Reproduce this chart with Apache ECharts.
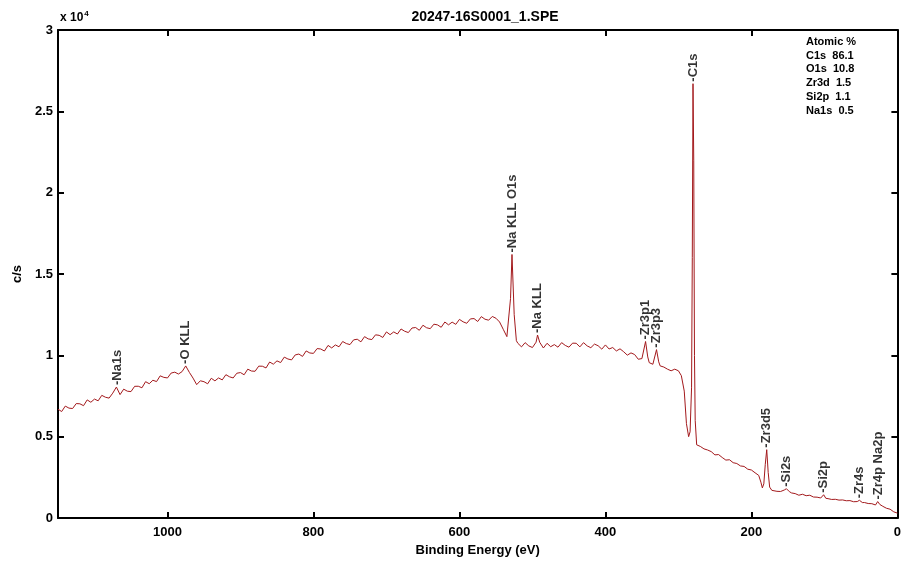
<!DOCTYPE html>
<html>
<head>
<meta charset="utf-8">
<title>20247-16S0001_1.SPE</title>
<script src="https://cdn.jsdelivr.net/npm/echarts@6/dist/echarts.min.js"></script>
<style>
  html, body { margin: 0; padding: 0; background: #ffffff; }
  #chart { width: 904px; height: 562px; }
</style>
</head>
<body>
<div id="chart"></div>
<script>
// XPS survey spectrum: binding energy (eV) and intensity (counts per second)
const bindingEnergy = [
  1150, 1145, 1140, 1135, 1130, 1125, 1120, 1115, 1110, 1105, 1100, 1095, 1090, 1085, 1080, 1075,
  1070, 1065, 1060, 1055, 1050, 1045, 1040, 1035, 1030, 1025, 1020, 1015, 1010, 1005, 1000, 995,
  990, 985, 980, 975, 970, 965, 960, 955, 950, 945, 940, 935, 930, 925, 920, 915,
  910, 905, 900, 895, 890, 885, 880, 875, 870, 865, 860, 855, 850, 845, 840, 835,
  830, 825, 820, 815, 810, 805, 800, 795, 790, 785, 780, 775, 770, 765, 760, 755,
  750, 745, 740, 735, 730, 725, 720, 715, 710, 705, 700, 695, 690, 685, 680, 675,
  670, 665, 660, 655, 650, 645, 640, 635, 630, 625, 620, 615, 610, 605, 600, 595,
  590, 585, 580, 575, 570, 565, 560, 555, 550, 545, 540, 535, 530, 528, 525, 522,
  520, 515, 510, 505, 500, 495, 493, 490, 485, 480, 475, 470, 465, 460, 455, 450,
  445, 440, 435, 430, 425, 420, 415, 410, 405, 400, 395, 390, 385, 380, 375, 370,
  365, 360, 355, 350, 345, 342, 340, 335, 330, 327, 325, 320, 315, 310, 305, 300,
  296, 292, 289, 286, 284, 282, 281, 280, 279, 278, 277, 275, 270, 265, 260, 255,
  250, 245, 240, 235, 230, 225, 220, 215, 210, 205, 200, 195, 190, 187, 185, 183,
  181, 179, 177, 175, 172, 170, 165, 160, 155, 152, 148, 145, 140, 135, 130, 125,
  120, 115, 110, 105, 101, 98, 95, 90, 85, 80, 75, 70, 65, 60, 55, 52,
  48, 45, 40, 35, 30, 27, 24, 20, 15, 10, 5, 0
];
const countsPerSecond = [
  6690, 6545, 6880, 6755, 6730, 7035, 7020, 6905, 7260, 7115, 7310, 7205, 7540, 7425, 7370, 7675,
  8050, 7585, 7920, 7795, 7770, 8095, 8100, 8005, 8380, 8255, 8470, 8385, 8740, 8645, 8610, 8910,
  8965, 8850, 9000, 9350, 8950, 8600, 8200, 8435, 8380, 8250, 8590, 8430, 8610, 8490, 8810, 8680,
  8610, 8900, 8940, 8805, 9150, 9035, 9020, 9335, 9330, 9225, 9590, 9455, 9660, 9555, 9890, 9775,
  9720, 10025, 10080, 9935, 10270, 10145, 10120, 10415, 10390, 10265, 10610, 10455, 10640, 10525, 10850, 10725,
  10660, 10950, 10990, 10830, 11150, 11010, 10970, 11260, 11230, 11100, 11440, 11270, 11440, 11310, 11620, 11480,
  11400, 11680, 11710, 11540, 11850, 11695, 11640, 11915, 11870, 11725, 12050, 11875, 12040, 11905, 12210, 12060,
  11970, 12240, 12260, 12080, 12380, 12220, 12160, 12390, 12280, 12050, 11600, 11150, 13500, 16200, 12500, 10900,
  10740, 10520, 10780, 10580, 10480, 10810, 11250, 10800, 10450, 10740, 10530, 10660, 10500, 10780, 10610, 10500,
  10750, 10740, 10520, 10780, 10580, 10470, 10690, 10590, 10380, 10640, 10390, 10480, 10270, 10400, 10220, 10010,
  10150, 10050, 9760, 9800, 10850, 9900, 9550, 9450, 10350, 9600, 9350, 9280, 9150, 9050, 9150, 9050,
  8750, 7800, 5800, 5000, 5300, 8000, 16000, 26700, 22000, 10000, 6000, 4500, 4400, 4250, 4180, 4080,
  3880, 3900, 3720, 3560, 3580, 3400, 3350, 3200, 3170, 3000, 2950, 2780, 2620, 2200, 1850, 2100,
  3300, 4200, 2800, 1900, 1700, 1760, 1640, 1630, 1720, 1800, 1620, 1540, 1500, 1400, 1460, 1370,
  1400, 1290, 1280, 1230, 1430, 1210, 1190, 1140, 1150, 1100, 1110, 1060, 1070, 1000, 1010, 1090,
  950, 950, 890, 880, 800, 1010, 830, 720, 600, 540, 380, 300
];

// Peak identifications
const peakNames = ['Na1s', 'O KLL', 'Na KLL O1s', 'Na KLL', 'Zr3p1', 'Zr3p3', 'C1s', 'Zr3d5', 'Si2s', 'Si2p', 'Zr4s', 'Zr4p Na2p'];
const peakEnergies = [1068, 975, 528, 493, 345, 330, 280, 179, 152, 101, 52, 26];
const peakCounts = [8050, 9350, 16200, 11250, 10850, 10350, 26700, 4200, 1800, 1430, 1090, 1010];

// Atomic concentration table
const atomicNames = ['C1s', 'O1s', 'Zr3d', 'Si2p', 'Na1s'];
const atomicPercent = ['86.1', '10.8', '1.5', '1.1', '0.5'];

// Axis ticks
const xTicks = [0, 200, 400, 600, 800, 1000];
const yTickLabels = ['0', '0.5', '1', '1.5', '2', '2.5', '3'];

const FONT = '"Liberation Sans", Arial, sans-serif';
const spectrum = bindingEnergy.map((e, i) => [e, countsPerSecond[i]]);
const peaks = peakEnergies.map((e, i) => ({ value: [e, peakCounts[i]], name: peakNames[i] }));

const chart = echarts.init(document.getElementById('chart'), null, { renderer: 'canvas' });

const axisLine = { show: true, onZero: false, lineStyle: { color: '#000', width: 2 } };
const tickStyle = { show: true, inside: true, length: 6, lineStyle: { color: '#000', width: 2 } };
const tickLabel = { color: '#000', fontFamily: FONT, fontSize: 13, fontWeight: 'bold' };
const nameStyle = { color: '#000', fontFamily: FONT, fontSize: 13, fontWeight: 'bold' };

const xCommon = {
  type: 'value', min: 0, max: 1150, interval: 200, inverse: true,
  axisLine: axisLine, axisTick: tickStyle, splitLine: { show: false }
};
const yCommon = {
  type: 'value', min: 0, max: 30000, interval: 5000,
  axisLine: axisLine, axisTick: tickStyle, splitLine: { show: false }
};

const tableLines = atomicNames.map((n, i) => ({
  type: 'text', left: 806, top: 50 + i * 13.8,
  style: { text: n + '  ' + atomicPercent[i], fill: '#000', font: 'bold 11px ' + FONT }
}));

chart.setOption({
  animation: false,
  backgroundColor: '#ffffff',
  title: {
    text: '20247-16S0001_1.SPE', left: 480, top: 5, textAlign: 'center',
    textStyle: { color: '#000', fontFamily: FONT, fontSize: 14, fontWeight: 'bold' }
  },
  grid: { left: 58, right: 3, top: 30, bottom: 44 },
  xAxis: [
    Object.assign({}, xCommon, {
      position: 'bottom',
      name: 'Binding Energy (eV)', nameLocation: 'middle', nameGap: 26,
      nameTextStyle: nameStyle,
      axisLabel: Object.assign({}, tickLabel, {
        margin: 8, showMaxLabel: false,
        formatter: v => xTicks.indexOf(v) >= 0 ? String(v) : ''
      })
    }),
    Object.assign({}, xCommon, { position: 'top', axisLabel: { show: false } })
  ],
  yAxis: [
    Object.assign({}, yCommon, {
      position: 'left',
      name: 'c/s', nameLocation: 'middle', nameGap: 32, nameRotate: 90,
      nameTextStyle: nameStyle,
      axisLabel: Object.assign({}, tickLabel, {
        margin: 5,
        formatter: v => yTickLabels[Math.round(v / 5000)]
      })
    }),
    Object.assign({}, yCommon, { position: 'right', axisLabel: { show: false } })
  ],
  graphic: [
    {
      type: 'text', left: 60, top: 10,
      style: {
        text: '{b|x 10}{s|4}',
        rich: {
          b: { font: 'bold 12px ' + FONT, fill: '#000' },
          s: { font: 'bold 8px ' + FONT, fill: '#000', verticalAlign: 'top', padding: [0, 0, 7, 1] }
        }
      }
    },
    {
      type: 'text', left: 806, top: 36,
      style: { text: 'Atomic %', fill: '#000', font: 'bold 11px ' + FONT }
    }
  ].concat(tableLines),
  series: [
    {
      type: 'line', xAxisIndex: 0, yAxisIndex: 0,
      data: spectrum, showSymbol: false, symbol: 'none',
      lineStyle: { color: '#a3191c', width: 1 },
      silent: true
    },
    {
      type: 'scatter', xAxisIndex: 0, yAxisIndex: 0,
      data: peaks, symbolSize: 0, silent: true,
      label: {
        show: true, position: 'top', distance: 2, rotate: 90,
        align: 'left', verticalAlign: 'middle',
        formatter: p => '-' + p.name,
        color: '#000', fontFamily: FONT, fontSize: 13, fontWeight: 'bold'
      }
    }
  ]
});
</script>
</body>
</html>
